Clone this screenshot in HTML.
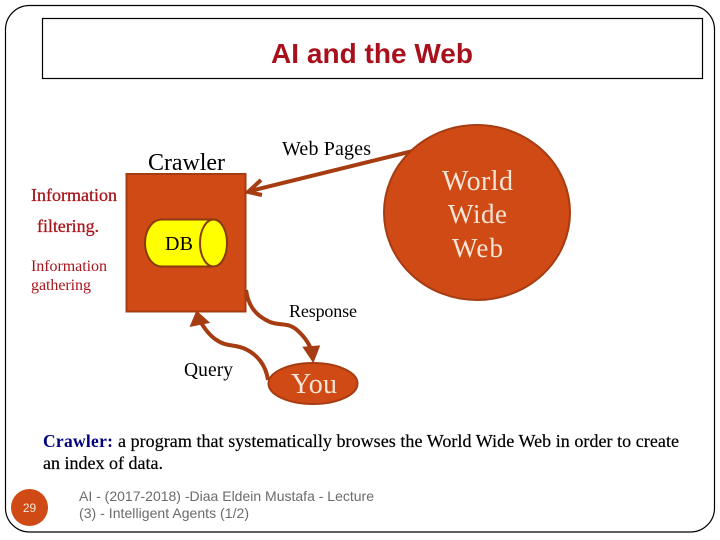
<!DOCTYPE html>
<html>
<head>
<meta charset="utf-8">
<style>
html,body{margin:0;padding:0;background:#fff;width:720px;height:540px;overflow:hidden}
svg{display:block}
.s{font-family:"Liberation Serif",serif}
.a{font-family:"Liberation Sans",sans-serif}
</style>
</head>
<body>
<svg width="720" height="540" viewBox="0 0 720 540" xmlns="http://www.w3.org/2000/svg">
<rect x="5.5" y="5.5" width="709" height="526.5" rx="24" ry="24" fill="#fff" stroke="#000" stroke-width="1.2"/>
<rect x="42.5" y="18.5" width="660" height="60" fill="#fff" stroke="#000" stroke-width="1.2"/>
<text x="271" y="63" class="a" font-size="28" font-weight="bold" fill="#a8101c" textLength="202">AI and the Web</text>

<!-- crawler box -->
<rect x="126.5" y="174" width="119" height="137.5" fill="#d04a15" stroke="#a63c12" stroke-width="2"/>
<!-- DB -->
<path d="M212 219.5H162C151 219.5 145 232 145 243C145 254 151 266.5 162 266.5H212" fill="#ffff00" stroke="#8a3a10" stroke-width="2"/>
<ellipse cx="213.5" cy="243" rx="13.5" ry="23.5" fill="#ffff00" stroke="#8a3a10" stroke-width="2"/>
<text x="165" y="250" class="s" font-size="20" fill="#000" textLength="28">DB</text>

<!-- arrow web to crawler -->
<path d="M413 151L250 191" fill="none" stroke="#a63c12" stroke-width="4"/>
<path d="M261 180L248 192L262 195" fill="none" stroke="#a63c12" stroke-width="4"/>

<!-- world wide web -->
<ellipse cx="477" cy="212.5" rx="93" ry="87.5" fill="#d04a15" stroke="#a63c12" stroke-width="2"/>
<text x="442" y="190" class="s" font-size="28" fill="#f5e6d8" textLength="71">World</text>
<text x="448" y="223" class="s" font-size="27" fill="#f5e6d8" textLength="59">Wide</text>
<text x="452" y="257" class="s" font-size="27" fill="#f5e6d8" textLength="51">Web</text>

<!-- response arrow -->
<path d="M246 290C248 304 254 315 270 322C280 326 288 322 297 330C306 338 311 347 313 355" fill="none" stroke="#a63c12" stroke-width="4"/>
<path d="M305 348L313 360L318 347Z" fill="#a63c12" stroke="#a63c12" stroke-width="3"/>

<!-- query arrow -->
<path d="M268 380C266 366 258 354 243 348C232 344 226 347 215 339C207 333 202 325 198 317" fill="none" stroke="#a63c12" stroke-width="4"/>
<path d="M192 325L197 313L207 322Z" fill="#a63c12" stroke="#a63c12" stroke-width="3"/>

<!-- You -->
<ellipse cx="313" cy="383.5" rx="44.5" ry="20.5" fill="#d04a15" stroke="#a63c12" stroke-width="2"/>
<text x="291" y="393" class="s" font-size="28" fill="#f5e6d8" textLength="46">You</text>

<!-- labels -->
<text x="148" y="170" class="s" font-size="24" fill="#000" textLength="77">Crawler</text>
<text x="282" y="155" class="s" font-size="20" fill="#000" textLength="89">Web Pages</text>
<text x="31" y="201" class="s" font-size="18" fill="#a8161c" stroke="#a8161c" stroke-width="0.3" textLength="86">Information</text>
<text x="37" y="232" class="s" font-size="18" fill="#a8161c" stroke="#a8161c" stroke-width="0.3" textLength="62">filtering.</text>
<text x="31" y="271" class="s" font-size="16" fill="#a8161c" textLength="76">Information</text>
<text x="31" y="290" class="s" font-size="16" fill="#a8161c" textLength="60">gathering</text>
<text x="289" y="317" class="s" font-size="18" fill="#000" textLength="68">Response</text>
<text x="184" y="376" class="s" font-size="19.5" fill="#000" textLength="49">Query</text>

<!-- description -->
<text x="43" y="447" class="s" font-size="17.5" font-weight="bold" fill="#000080" textLength="70">Crawler:</text>
<text x="118" y="447" class="s" font-size="18" fill="#000" stroke="#000" stroke-width="0.2" textLength="561">a program that systematically browses the World Wide Web in order to create</text>
<text x="43" y="469" class="s" font-size="18" fill="#000" stroke="#000" stroke-width="0.2" textLength="120">an index of data.</text>

<!-- footer -->
<ellipse cx="29.5" cy="507.5" rx="18.5" ry="18.5" fill="#d04a15"/>
<text x="29.5" y="512" text-anchor="middle" class="a" font-size="12" fill="#f5e6d8">29</text>
<text x="79" y="501" class="a" font-size="14" fill="#6b6b6b" textLength="295">AI - (2017-2018) -Diaa Eldein Mustafa - Lecture</text>
<text x="79" y="518" class="a" font-size="14" fill="#6b6b6b" textLength="170">(3) - Intelligent Agents (1/2)</text>
</svg>
</body>
</html>
